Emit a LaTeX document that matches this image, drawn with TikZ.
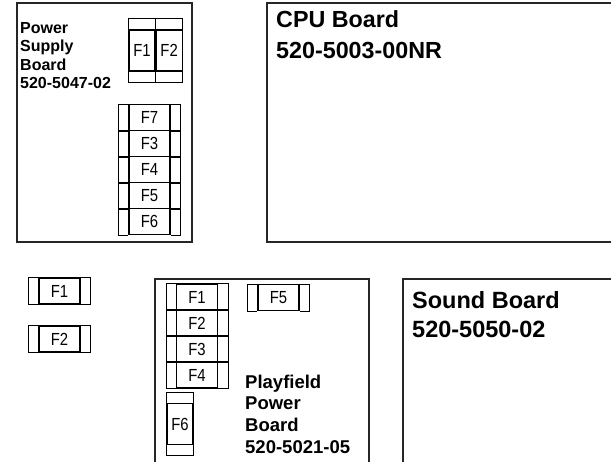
\documentclass[tikz,border=0pt]{standalone}
\usepackage{fontspec}
\setmainfont{Liberation Sans}
\newfontfamily\fusefont[FakeStretch=0.85]{Liberation Sans}
\usetikzlibrary{positioning}
\tikzset{
    board/.style={
        draw=black!85,
        line width=1.3pt
    },
    boardlabel/.style={
        anchor=north west,
        inner sep=0pt,
        align=left
    },
    hfuse/.style={
        draw,
        line width=1.1pt,
        minimum width=41pt,
        minimum height=26pt,
        inner sep=0pt,
        font=\fusefont\fontsize{17.5}{17.5}\selectfont
    },
    vfuse/.style={
        hfuse,
        minimum width=26pt,
        minimum height=41pt
    },
    fusecap/.style={
        draw,
        line width=0.7pt
    },
}

\begin{document}
\begin{tikzpicture}[x=1pt, y=-1pt]
    \clip (0,0) rectangle (611,462);
    \fill[white] (0,0) rectangle (611,462);

    % boards
    \draw[board] (17,3) rectangle (192,242);
    \draw[board] (267,3) rectangle (620,242);
    \draw[board] (155,279) rectangle (369,470);
    \draw[board] (403,279) rectangle (620,470);

    \node[boardlabel, font=\bfseries\fontsize{16}{18.5}\selectfont] (psulabel) at (20,22) {Power\\Supply\\Board\\520-5047-02};
    \node[boardlabel, font=\bfseries\fontsize{23.3}{30.5}\selectfont] (cpulabel) at (276,10.8) {CPU Board\\520-5003-00NR};
    \node[boardlabel, font=\bfseries\fontsize{23.5}{29.4}\selectfont] (sndlabel) at (412,291.3) {Sound Board\\520-5050-02};
    \node[boardlabel, font=\bfseries\fontsize{18.5}{21.7}\selectfont] (pflabel) at (245,374.5) {Playfield\\Power\\Board\\520-5021-05};

    % power supply fuses
    \node[vfuse] (psuf1) at (142,50.5) {F1};
    \node[vfuse, right=0pt of psuf1] (psuf2) {F2};
    \foreach \lbl [count=\i] in {F7,F3,F4,F5,F6}
        \node[hfuse] (psuh\i) at ({149.5},{117.5+26*(\i-1)}) {\lbl};

    % spare fuses
    \node[hfuse] (sparef1) at (59.5,291) {F1};
    \node[hfuse] (sparef2) at (59.5,339) {F2};

    % playfield power fuses
    \foreach \lbl [count=\i] in {F1,F2,F3,F4}
        \node[hfuse] (pfh\i) at ({197},{297+26*(\i-1)}) {\lbl};
    \node[hfuse] (pff5) at (278.5,297.5) {F5};
    \node[vfuse] (pff6) at (180,424) {F6};

    % fuse end caps
    \foreach \n in {psuh1,psuh2,psuh3,psuh4,psuh5,sparef1,sparef2,pfh1,pfh2,pfh3,pfh4,pff5} {
        \draw[fusecap] (\n.north west) -- ++(-10pt,0) |- (\n.south west);
        \draw[fusecap] (\n.north east) -- ++(10pt,0) |- (\n.south east);
    }
    \foreach \n in {psuf1,psuf2,pff6} {
        \draw[fusecap] (\n.north west) -- ++(0,11pt) -| (\n.north east);
        \draw[fusecap] (\n.south west) -- ++(0,-10.5pt) -| (\n.south east);
    }
\end{tikzpicture}
\end{document}
